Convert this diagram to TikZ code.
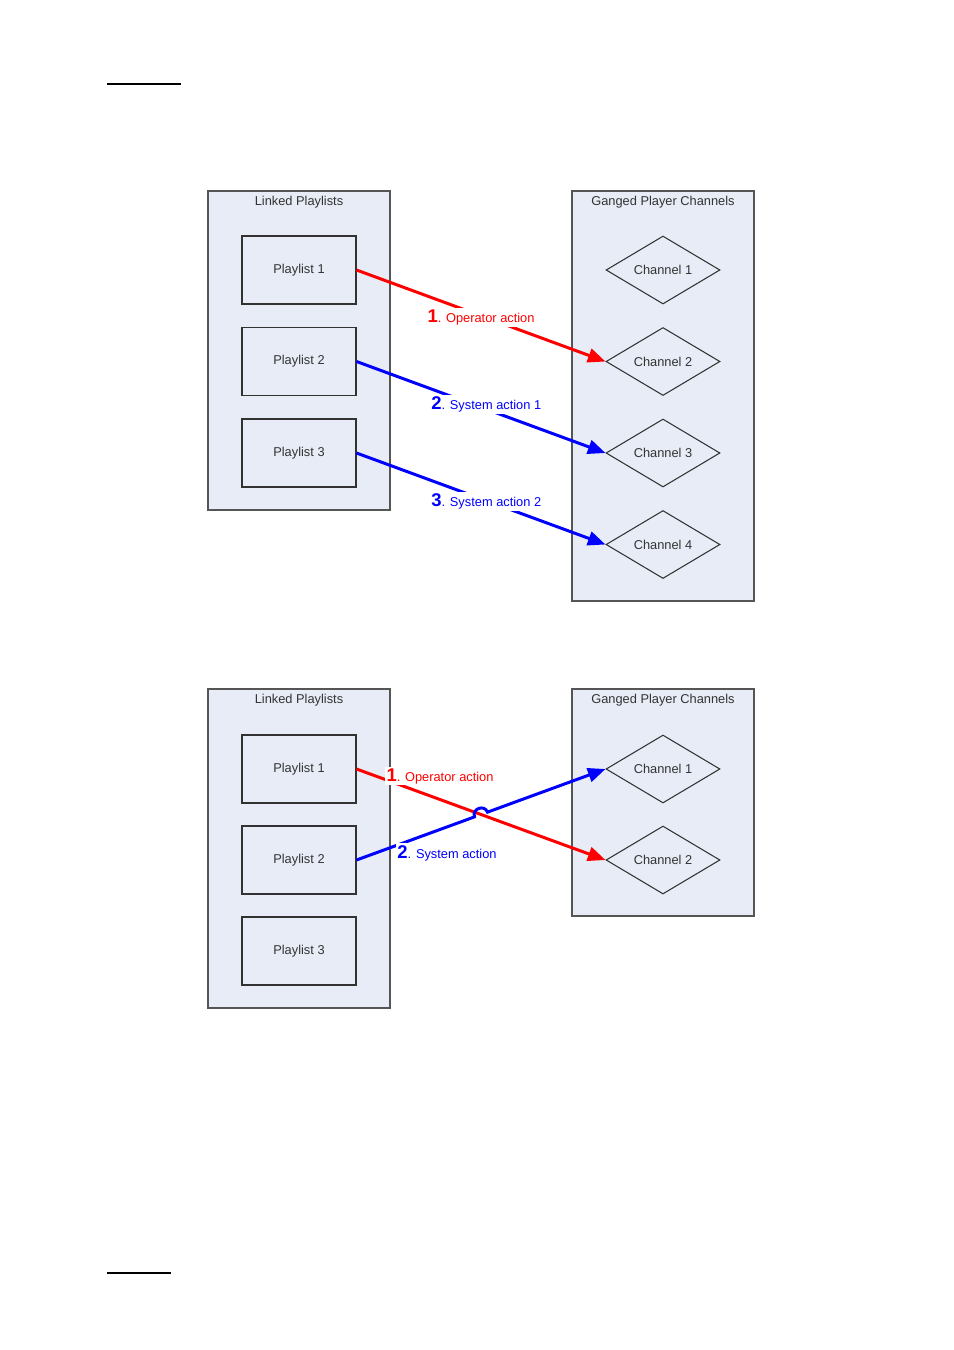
\documentclass[tikz,border=0pt]{standalone}
\usepackage{fontspec}
\setmainfont{Liberation Sans}
\usetikzlibrary{shapes.geometric,arrows.meta,calc}

\definecolor{panelfill}{RGB}{231,236,246}
\definecolor{panelline}{RGB}{85,85,85}
\definecolor{boxline}{RGB}{50,50,50}
\definecolor{opred}{RGB}{255,0,0}
\definecolor{sysblue}{RGB}{0,0,255}

\tikzset{
  panel/.style={draw=panelline, fill=panelfill, line width=0.8pt, minimum width=3.64cm, inner sep=0pt},
  paneltitle/.style={anchor=north, inner sep=3pt, font=\fontsize{7.3}{9}\selectfont, text=black!80},
  playlist/.style={draw=boxline, line width=0.6pt, minimum width=2.28cm, minimum height=1.36cm, inner sep=0pt, font=\fontsize{7.3}{9}\selectfont, text=black!80},
  channel/.style={diamond, draw=boxline, line width=0.6pt, aspect=1.68, minimum width=2.28cm, minimum height=1.36cm, inner sep=0pt, font=\fontsize{7.3}{9}\selectfont, text=black!80},
  action/.style={line width=1.7pt, -{Triangle[length=10pt,width=8pt]}},
  lbl/.style={fill=white, inner sep=1pt, font=\fontsize{7.3}{9}\selectfont},
}
\newcommand{\stepnum}[1]{{\fontsize{10.5}{12}\selectfont\bfseries #1}}

\begin{document}
\begin{tikzpicture}[x=0.02cm, y=-0.02cm]
  \useasboundingbox (0,0) rectangle (954,1350);

  % page rules
  \draw[line width=0.6pt] (107,84) -- (181,84);
  \draw[line width=0.6pt] (107,1273) -- (171,1273);

  % ---- upper diagram: one operator action, two system actions
  \node[panel, minimum height=6.38cm] (linkA) at (299,350.5) {};
  \node[paneltitle] (linkAt) at (linkA.north) {Linked Playlists};
  \node[panel, minimum height=8.2cm] (gangA) at (663,396) {};
  \node[paneltitle] (gangAt) at (gangA.north) {Ganged Player Channels};

  \foreach \n/\y in {1/270,2/361.5,3/453} {
    \node[playlist] (plA\n) at (299,\y) {Playlist \n};
  }
  \foreach \n/\y in {1/270,2/361.5,3/453,4/544.5} {
    \node[channel] (chA\n) at (663,\y) {Channel \n};
  }

  \draw[action, opred] (plA1.east) -- node[lbl, text=opred, pos=0.5, yshift=-1pt] {\stepnum{1}. Operator action} (chA2.west);
  \draw[action, sysblue] (plA2.east) -- node[lbl, text=sysblue, pos=0.5, xshift=3pt, yshift=1.5pt] {\stepnum{2}. System action 1} (chA3.west);
  \draw[action, sysblue] (plA3.east) -- node[lbl, text=sysblue, pos=0.5, xshift=3pt, yshift=-1.5pt] {\stepnum{3}. System action 2} (chA4.west);

  % ---- lower diagram: actions cross over
  \node[panel, minimum height=6.38cm] (linkB) at (299,848.5) {};
  \node[paneltitle] (linkBt) at (linkB.north) {Linked Playlists};
  \node[panel, minimum height=4.54cm] (gangB) at (663,802.5) {};
  \node[paneltitle] (gangBt) at (gangB.north) {Ganged Player Channels};

  \foreach \n/\y in {1/769,2/860,3/951} {
    \node[playlist] (plB\n) at (299,\y) {Playlist \n};
  }
  \foreach \n/\y in {1/769,2/860} {
    \node[channel] (chB\n) at (663,\y) {Channel \n};
  }

  \draw[action, opred] (plB1.east) -- (chB2.west);
  % blue line hops over the red one
  \coordinate (hopIn) at ($(plB2.east)!0.474!(chB1.west)$);
  \coordinate (hopOut) at ($(plB2.east)!0.526!(chB1.west)$);
  \draw[action, sysblue] (plB2.east) -- (hopIn) to[out=110, in=110, looseness=1.6] (hopOut) -- (chB1.west);

  \node[lbl, text=opred] (opB) at (440,776) {\stepnum{1}. Operator action};
  \node[lbl, text=sysblue] (sysB) at (447,853) {\stepnum{2}. System action};
\end{tikzpicture}
\end{document}
